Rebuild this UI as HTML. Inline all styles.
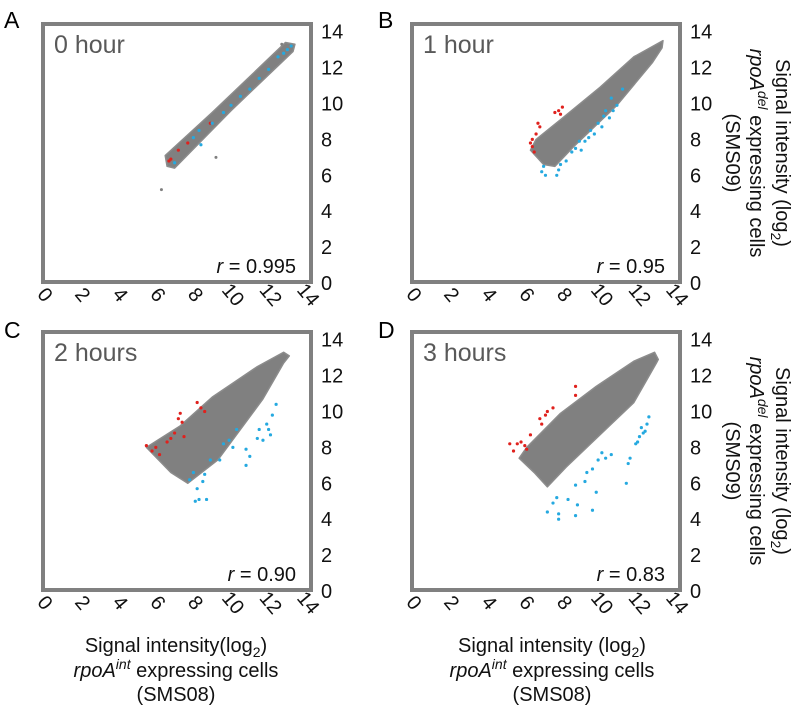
<!DOCTYPE html>
<html><head><meta charset="utf-8"><style>
html,body{margin:0;padding:0;background:#fff;}
svg{display:block;font-family:"Liberation Sans",Arial,sans-serif;}
</style></head><body>
<svg id="chart" width="797" height="708" viewBox="0 0 797 708">
<text x="4" y="28" font-size="23">A</text>
<text x="378" y="28" font-size="23">B</text>
<text x="4" y="338" font-size="23">C</text>
<text x="378" y="338" font-size="23">D</text>
<g font-size="20" text-anchor="middle" fill="#111">
<text x="176" y="652">Signal intensity(log<tspan font-size="14" dy="5">2</tspan><tspan dy="-5">)</tspan></text>
<text x="176" y="677"><tspan font-style="italic">rpoA</tspan><tspan font-style="italic" font-size="14" dy="-8">int</tspan><tspan dy="8"> expressing cells</tspan></text>
<text x="176" y="701">(SMS08)</text>
<text x="552" y="652">Signal intensity (log<tspan font-size="14" dy="5">2</tspan><tspan dy="-5">)</tspan></text>
<text x="552" y="677"><tspan font-style="italic">rpoA</tspan><tspan font-style="italic" font-size="14" dy="-8">int</tspan><tspan dy="8"> expressing cells</tspan></text>
<text x="552" y="701">(SMS08)</text>
</g>
<g font-size="20" text-anchor="middle" fill="#111">
<g transform="translate(776,153) rotate(90)"><text>Signal intensity (log<tspan font-size="14" dy="5">2</tspan><tspan dy="-5">)</tspan></text></g>
<g transform="translate(750,153) rotate(90)"><text><tspan font-style="italic">rpoA</tspan><tspan font-style="italic" font-size="14" dy="-8">del</tspan><tspan dy="8"> expressing cells</tspan></text></g>
<g transform="translate(726,153) rotate(90)"><text>(SMS09)</text></g>
<g transform="translate(776,461) rotate(90)"><text>Signal intensity (log<tspan font-size="14" dy="5">2</tspan><tspan dy="-5">)</tspan></text></g>
<g transform="translate(750,461) rotate(90)"><text><tspan font-style="italic">rpoA</tspan><tspan font-style="italic" font-size="14" dy="-8">del</tspan><tspan dy="8"> expressing cells</tspan></text></g>
<g transform="translate(726,461) rotate(90)"><text>(SMS09)</text></g>
</g>
</svg>
<script>
const ticks = [0, 2, 4, 6, 8, 10, 12, 14];
const panelTitles = ["0 hour", "1 hour", "2 hours", "3 hours"];
const rValues = ["0.995", "0.95", "0.90", "0.83"];
// gray cloud outlines [x, y] in log2 units
const cloudA = [[6.5,7.1],[9,9.5],[12.9,13.4],[13.4,13.3],[13.3,12.9],[10,9.6],[7.0,6.4],[6.6,6.5]];
const cloudB = [[6.3,7.4],[6.6,8.0],[7.9,9.1],[10,10.9],[11.8,12.6],[13.35,13.5],[13.3,13.1],[12.8,12.3],[10.9,9.9],[8.6,7.6],[7.6,6.5],[7,6.6]];
const cloudC = [[5.5,8.0],[7.3,9.2],[9.0,10.8],[11.4,12.5],[12.8,13.3],[13.1,13.1],[12.8,12.7],[11.7,10.7],[9.3,7.3],[7.7,6.0],[6.8,6.6]];
const cloudD = [[5.7,7.4],[6.1,8.0],[7.9,9.9],[9.8,11.4],[11.8,12.8],[12.9,13.3],[13.1,12.9],[13,12.7],[11.8,10.5],[10.5,9.2],[8.2,6.9],[7.2,5.8],[6.5,6.6]];
const grayExtraA = [[6.3,5.2],[9.2,7.0],[12.7,13.3]];
const redA = [[6.7,6.8],[6.8,6.9],[7.2,7.4],[7.7,7.8],[8.9,8.9]];
const blueA = [[7.0,6.7],[8,8.1],[8.3,8.5],[8.4,7.7],[9,8.9],[9.6,9.5],[10,9.9],[10.5,10.4],[11,10.8],[11.5,11.4],[12.0,11.9],[12.5,12.6],[12.8,12.8],[13,13],[13.2,13.2]];
const redB = [[6.3,7.8],[6.4,8.0],[6.4,7.6],[6.5,7.3],[6.7,8.9],[6.8,8.7],[6.6,8.3],[7.8,9.6],[8,9.8],[7.9,9.4],[7.6,9.5]];
const blueB = [[6.9,6.2],[7.1,6.0],[7.0,6.5],[7.7,6.0],[7.8,6.3],[7.9,6.6],[8.2,6.8],[8.5,7.3],[8.7,7.5],[9,7.4],[9.2,7.9],[9.5,8.5],[9.7,8.3],[9.9,8.9],[10.1,8.7],[10.2,9.3],[10.3,9.6],[10.5,9.2],[10.7,9.6],[10.9,9.9],[10.6,10.3],[11.2,10.8],[8.9,7.9],[9.4,8.1]];
const redC = [[5.5,8.1],[5.8,7.8],[6.0,8.0],[6.2,7.6],[6.6,8.3],[6.8,8.5],[7,8.8],[7.2,9.6],[7.4,9.4],[7.3,9.9],[7.5,8.6],[8.2,10.5],[8.6,10],[8.4,10.2]];
const blueC = [[7.8,6.2],[8.1,5.0],[8.3,5.1],[8.7,5.1],[8.2,5.7],[8.5,6.1],[8.0,6.6],[8.6,6.5],[8.9,7.3],[9.4,7.3],[9.6,8.2],[9.9,8.4],[10.3,9.0],[10.1,8.0],[10.8,7.9],[10.8,7.0],[11.0,7.5],[11.4,8.5],[11.5,9.0],[11.9,9.3],[12.2,9.8],[12.0,9.0],[12.1,8.7],[12.4,10.4],[11.7,8.4]];
const redD = [[5.2,8.2],[5.4,7.8],[5.6,8.2],[5.8,8.3],[6.0,8.1],[6.3,8.7],[6.8,9.6],[6.9,9.3],[7.2,10.0],[7.5,10.2],[7.1,9.8],[8.7,10.9],[8.7,11.4],[6.1,7.9]];
const blueD = [[7.2,4.4],[7.8,4.3],[7.8,4.0],[8.3,5.1],[8.8,4.8],[8.7,4.2],[9.6,4.5],[9.8,5.5],[8.7,5.9],[9.2,6.1],[9.6,6.8],[9.3,6.6],[10.3,7.4],[10.1,7.7],[9.9,7.3],[11.4,6.0],[11.5,7.1],[11.6,7.4],[11.9,8.2],[12.1,8.6],[12.3,8.8],[12.5,9.3],[12.2,9.1],[12.0,8.3],[7.7,5.2],[7.5,4.9],[10.6,7.6],[12.6,9.7],[12.4,8.9]];

const NS = "http://www.w3.org/2000/svg";
const svg = document.getElementById("chart");
const panels = [
  {ox:0, oy:0, cloud:cloudA, gray:grayExtraA, red:redA, blue:blueA, id:"a"},
  {ox:369, oy:0, cloud:cloudB, gray:[], red:redB, blue:blueB, id:"b"},
  {ox:0, oy:308, cloud:cloudC, gray:[], red:redC, blue:blueC, id:"c"},
  {ox:369, oy:308, cloud:cloudD, gray:[], red:redD, blue:blueD, id:"d"}
];
function mk(tag, attrs, parent){const e=document.createElementNS(NS,tag);for(const k in attrs)e.setAttribute(k,attrs[k]);(parent||svg).appendChild(e);return e;}
panels.forEach((p,i)=>{
  const xs = v => p.ox + 43 + v*18.8;
  const ys = v => p.oy + 283 - v*17.95;
  const g = mk("g",{});
  
  
  const box = mk("rect",{x:p.ox+43,y:p.oy+24,width:268,height:258,fill:"none",stroke:"#808080","stroke-width":4},g);
  
  
  const t = mk("text",{x:p.ox+54,y:p.oy+53,"font-size":25,fill:"#595959"},g);
  t.textContent = panelTitles[i];
  
  
  const r = mk("text",{x:p.ox+296,y:p.oy+273,"font-size":20,"text-anchor":"end",fill:"#111"},g);
  r.innerHTML = '<tspan font-style="italic">r</tspan> = '+rValues[i];
  
  
  ticks.forEach(v=>{
    const yt = mk("text",{x:p.ox+321,y:ys(v)+7,"font-size":20,fill:"#111"},g);
    yt.textContent = v;
    
    
    const xt = mk("text",{"font-size":20,fill:"#111","text-anchor":"middle",transform:"translate("+(xs(v)-3)+","+(p.oy+299)+") rotate(50)"},g);
    xt.textContent = v;
    
    
  });
  const poly = mk("polygon",{points:p.cloud.map(d=>xs(d[0])+","+ys(d[1])).join(" "),fill:"#808080",stroke:"#8c8c8c","stroke-width":1.5,"stroke-linejoin":"round"},g);
  
  
  p.gray.forEach(d=>{
    const c = mk("circle",{cx:xs(d[0]),cy:ys(d[1]),r:1.5,fill:"#808080"},g);
    
    
  });
  p.red.forEach(d=>{
    const c = mk("circle",{cx:xs(d[0]),cy:ys(d[1]),r:1.6,fill:"#e0211d"},g);
    
    
  });
  p.blue.forEach(d=>{
    const c = mk("circle",{cx:xs(d[0]),cy:ys(d[1]),r:1.6,fill:"#25a9e0"},g);
    
    
  });
});
</script>
</body></html>
